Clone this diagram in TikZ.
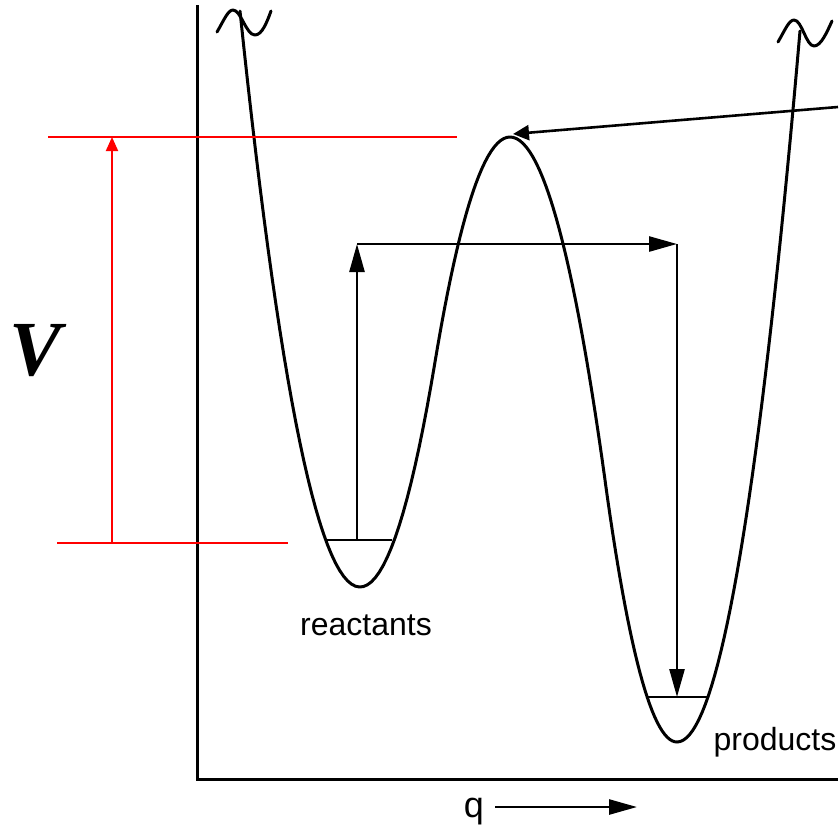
\documentclass[tikz,border=0pt]{standalone}
\usepackage{fontspec}
\setmainfont{Liberation Sans}
\newfontfamily\vserif{Liberation Serif}
\usetikzlibrary{arrows.meta}

\begin{document}
\begin{tikzpicture}[
   x=0.5pt, y=-0.5pt,
   curve/.style={line width=1.5pt, line join=round, line cap=round},
   axis/.style={line width=1.5pt},
   level/.style={line width=1.2pt},
   redline/.style={red, line width=1pt},
   arr/.style={-{Triangle[length=14pt, width=7.5pt]}, line width=1.3pt},
   tsarr/.style={-{Triangle[length=8pt, width=7.5pt]}, line width=1.3pt},
   redarr/.style={-{Triangle[length=7pt, width=6pt]}, red, line width=1pt},
   lbl/.style={font=\fontsize{16}{18}\selectfont, anchor=base, inner sep=0pt}]
 \useasboundingbox (0,0) rectangle (840,826);
 % axes
 \draw[axis] (197,5) -- (197,779) -- (838,779);
 % potential curve: two wells and a barrier, parabola pieces
 \draw[curve]
   plot[domain=240:435, samples=50] (\x, {587-0.04*(\x-360)^2})
   -- plot[domain=435:510, samples=25] (\x, {137+0.04*(\x-510)^2})
   -- plot[domain=510:605.3, samples=30] (\x, {137+0.038*(\x-510)^2})
   -- plot[domain=605.3:677, samples=30] (\x, {742-0.0505*(\x-677)^2})
   -- plot[domain=677:800, samples=40] (\x, {742-0.047*(\x-677)^2});
 % breaks at the top
 \draw[curve] (217,32) .. controls (224,20) and (228,10) .. (233,10)
   .. controls (241,10) and (246,35) .. (255,35)
   .. controls (262,35) and (267,22) .. (271,11);
 \draw[curve] (778,42) .. controls (785,30) and (789,20) .. (794,20)
   .. controls (802,20) and (806,46) .. (814,46)
   .. controls (821,46) and (827,32) .. (832,21);
 % zero point levels
 \draw[level] (327,540) -- (392,540);
 \draw[level] (648,697) -- (708,697);
 % barrier height
 \coordinate (vtop) at (112,137);
 \coordinate (vbot) at (112,543);
 \draw[redline] (48,137) -- (457,137);
 \draw[redline] (57,543) -- (288,543);
 \draw[redarr] (vbot) -- (vtop);
 \node[font=\vserif\bfseries\itshape\fontsize{39}{44}\selectfont,
       anchor=base, inner sep=0pt] (vlab) at (36,375) {V};
 % tunnelling path
 \coordinate (rlevel) at (357,540);
 \coordinate (rtop) at (357,244);
 \coordinate (pcorner) at (677,244);
 \coordinate (plevel) at (677,697);
 \draw[arr] (rlevel) -- (rtop);
 \draw[arr] (rtop) -- (pcorner);
 \draw[arr] (pcorner) -- (plevel);
 % transition state
 \coordinate (tsfrom) at (838,107);
 \coordinate (ts) at (513,134);
 \draw[tsarr] (tsfrom) -- (ts);
 % labels
 \node[lbl] (react) at (366,635) {reactants};
 \node[lbl] (prod) at (775,750) {products};
 \node[lbl, font=\fontsize{18}{20}\selectfont] (qlab) at (474,817) {q};
 \coordinate (qa) at (495,807);
 \coordinate (qb) at (637,807);
 \draw[arr] (qa) -- (qb);
\end{tikzpicture}
\end{document}
